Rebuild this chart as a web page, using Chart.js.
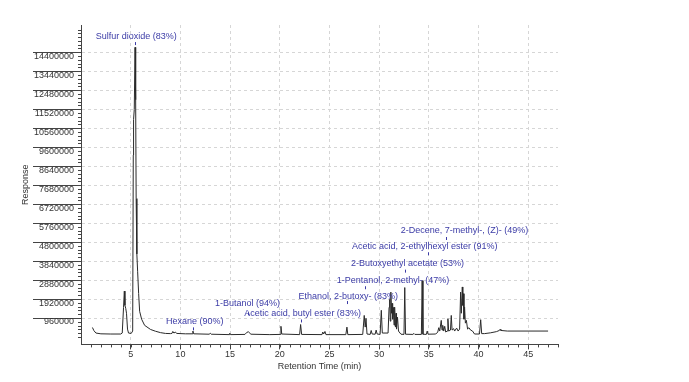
<!DOCTYPE html>
<html>
<head>
<meta charset="utf-8">
<script src="https://cdn.jsdelivr.net/npm/chart.js@4.4.0/dist/chart.umd.min.js"></script>
<style>
  body { margin: 0; background: #fff; }
  #chart { display: block; }
</style>
</head>
<body>
<canvas id="chart" width="689" height="382"></canvas>
<script>
// retention time (min) and detector response
const times = [
  1.15, 1.3, 1.5, 2.0, 3.0, 4.0, 4.15, 4.28, 4.36, 4.42, 4.5, 4.58, 4.68, 4.78,
  5.05, 5.2, 5.26, 5.29, 5.36, 5.44, 5.5, 5.55, 5.62, 5.7, 5.8, 5.9, 6.1, 6.4, 7.0, 7.5, 8.0, 8.5, 9.0,
  9.15, 9.24, 9.35, 9.5, 9.62, 10.5, 11.18, 11.26, 11.34, 12.9, 13.0, 13.1,
  14.9, 14.97, 15.05, 16.5, 16.7, 16.85, 17.1, 19.0, 20.05, 20.12, 20.2,
  22.0, 22.1, 22.2, 24.25, 24.33, 24.42, 24.55, 24.65, 26.65, 26.76, 26.85,
  28.35, 28.5, 28.6, 28.68, 28.78, 29.1, 29.2, 29.3, 29.6, 29.7, 29.8,
  30.1, 30.22, 30.32, 30.9, 31.0, 31.06, 31.12, 31.18, 31.25, 31.3, 31.36, 31.43, 31.5,
  31.56, 31.64, 31.7, 31.75, 31.85, 31.95, 32.1, 32.2, 32.5, 32.58, 32.66,
  33.4, 33.5, 33.6, 34.25, 34.33, 34.41, 34.75, 34.84, 34.92,
  35.7, 35.9, 36.0, 36.1, 36.25, 36.33, 36.4, 36.5, 36.6, 36.7, 36.85, 36.92, 37.0,
  37.18, 37.26, 37.34, 37.5, 37.6, 37.8, 37.95, 38.1, 38.2, 38.27, 38.37, 38.42, 38.47,
  38.54, 38.6, 38.68, 38.78, 38.9, 39.04, 39.2, 39.4, 39.6, 40.1, 40.22, 40.32,
  40.6, 41.2, 41.8, 42.1, 42.17, 42.25, 42.9, 45.0, 47.0
];
const responses = [
  480000, 320000, 200000, 160000, 150000, 150000, 200000, 1500000, 2320000, 1600000, 1450000, 1200000, 400000, 200000,
  180000, 300000, 9200000, 11000000, 11500000, 14650000, 12000000, 7000000, 4200000, 3300000, 2200000, 1300000, 900000, 590000, 380000, 290000, 220000, 180000, 170000,
  180000, 280000, 200000, 250000, 180000, 160000, 160000, 300000, 160000, 140000, 190000, 140000,
  120000, 190000, 120000, 130000, 240000, 260000, 140000, 120000, 130000, 540000, 150000,
  120000, 630000, 130000, 120000, 250000, 150000, 280000, 120000, 120000, 500000, 120000,
  130000, 1090000, 500000, 940000, 150000, 130000, 330000, 150000, 140000, 350000, 150000,
  130000, 1350000, 200000, 200000, 1500000, 1900000, 800000, 2270000, 1200000, 1700000, 900000, 1500000, 600000,
  1510000, 500000, 1200000, 400000, 1000000, 300000, 200000, 140000, 130000, 2500000, 140000,
  130000, 180000, 130000, 130000, 2850000, 140000, 130000, 300000, 140000,
  150000, 250000, 470000, 300000, 840000, 350000, 590000, 300000, 540000, 250000, 300000, 925000, 300000,
  350000, 1090000, 350000, 420000, 300000, 450000, 300000, 400000, 2270000, 1200000, 2530000, 1600000, 2190000,
  900000, 1510000, 700000, 840000, 400000, 470000, 350000, 300000, 150000, 150000, 875000, 170000,
  170000, 210000, 270000, 330000, 385000, 330000, 300000, 300000, 300000
];

// library search hits: name, peak time, where the label text sits
const peakNames = [
  "Sulfur dioxide (83%)", "Hexane (90%)", "1-Butanol (94%)", "Acetic acid, butyl ester (83%)",
  "Ethanol, 2-butoxy- (83%)", "1-Pentanol, 2-methyl- (47%)", "2-Butoxyethyl acetate (53%)",
  "Acetic acid, 2-ethylhexyl ester (91%)", "2-Decene, 7-methyl-, (Z)- (49%)"
];
const peakTimes = [5.47, 11.26, 16.8, 22.1, 26.76, 28.6, 32.58, 34.9, 36.76];
const labelTimes = [5.55, 11.45, 16.75, 22.3, 26.9, 31.4, 32.85, 34.6, 38.6];
const labelLevels = [15220000, 790000, 1700000, 1190000, 2070000, 2870000, 3710000, 4590000, 5360000];
const tickOffsets = [6, 6, 9, 6, 5, 6, 6, 6, 6];

const xTicks = [5, 10, 15, 20, 25, 30, 35, 40, 45];
const yTicks = [960000, 1920000, 2880000, 3840000, 4800000, 5760000, 6720000, 7680000,
  8640000, 9600000, 10560000, 11520000, 12480000, 13440000, 14400000];

const points = times.map((t, i) => ({ x: t, y: responses[i] }));

const FONT = "'Liberation Sans', Arial, sans-serif";

//small ticks and peak labels
const extras = {
  id: "extras",
  afterDraw(chart) {
    const ctx = chart.ctx;
    const xs = chart.scales.x;
    const ys = chart.scales.y;
    const area = chart.chartArea;
    ctx.save();
    ctx.strokeStyle = "#444";
    ctx.lineWidth = 1;
    ctx.beginPath();
    for (let t = 1; t <= 48; t++) {
      const px = Math.round(xs.getPixelForValue(t)) + 0.5;
      ctx.moveTo(px, area.bottom);
      ctx.lineTo(px, area.bottom + 3);
    }
    for (let v = 0; v <= 15600000; v += 192000) {
      const py = Math.round(ys.getPixelForValue(v)) + 0.5;
      if (py < area.top) break;
      ctx.moveTo(area.left - 3, py);
      ctx.lineTo(area.left, py);
    }
    ctx.stroke();

    ctx.fillStyle = "#3b3ba6";
    ctx.strokeStyle = "#3b3ba6";
    ctx.font = "9px " + FONT;
    ctx.textAlign = "center";
    ctx.textBaseline = "middle";
    peakNames.forEach((name, i) => {
      const tx = xs.getPixelForValue(labelTimes[i]);
      const ty = ys.getPixelForValue(labelLevels[i]);
      ctx.fillText(name, tx, ty);
      const kx = Math.round(xs.getPixelForValue(peakTimes[i])) + 0.5;
      ctx.beginPath();
      ctx.moveTo(kx, ty + tickOffsets[i]);
      ctx.lineTo(kx, ty + tickOffsets[i] + 3);
      ctx.stroke();
    });
    ctx.restore();
  }
};

new Chart(document.getElementById("chart"), {
  type: "line",
  data: {
    datasets: [{
      data: points,
      borderColor: "#2a2a2a",
      borderWidth: 1,
      pointRadius: 0,
      tension: 0,
      fill: false
    }]
  },
  plugins: [extras],
  options: {
    responsive: false,
    animation: false,
    devicePixelRatio: 1,
    layout: { padding: { left: 16, top: 25, right: 131, bottom: 10 } },
    plugins: { legend: { display: false }, tooltip: { enabled: false } },
    scales: {
      x: {
        type: "linear",
        min: 0,
        max: 48,
        afterBuildTicks: (s) => { s.ticks = xTicks.map(v => ({ value: v })); },
        grid: { color: "#d6d6d6", tickLength: 5, tickColor: "#444", tickBorderDash: [] },
        border: { color: "#444", width: 1, dash: [3, 3] },
        ticks: { color: "#333", font: { size: 9, family: FONT }, padding: 0, maxRotation: 0 },
        title: { display: true, text: "Retention Time (min)", color: "#333", font: { size: 9, family: FONT }, padding: { top: 1, bottom: 0 } }
      },
      y: {
        min: -375000,
        max: 15780000,
        afterBuildTicks: (s) => { s.ticks = yTicks.map(v => ({ value: v })); },
        afterFit: (s) => { s.width = 65; },
        grid: { color: "#d6d6d6", tickLength: 48, tickColor: "#444", tickBorderDash: [] },
        border: { color: "#444", width: 1, dash: [3, 3] },
        ticks: { color: "#333", font: { size: 9, family: FONT }, padding: -41, labelOffset: 4, callback: (v) => String(v) },
        title: { display: true, text: "Response", color: "#333", font: { size: 9, family: FONT }, padding: 4 }
      }
    }
  }
});
</script>
</body>
</html>
